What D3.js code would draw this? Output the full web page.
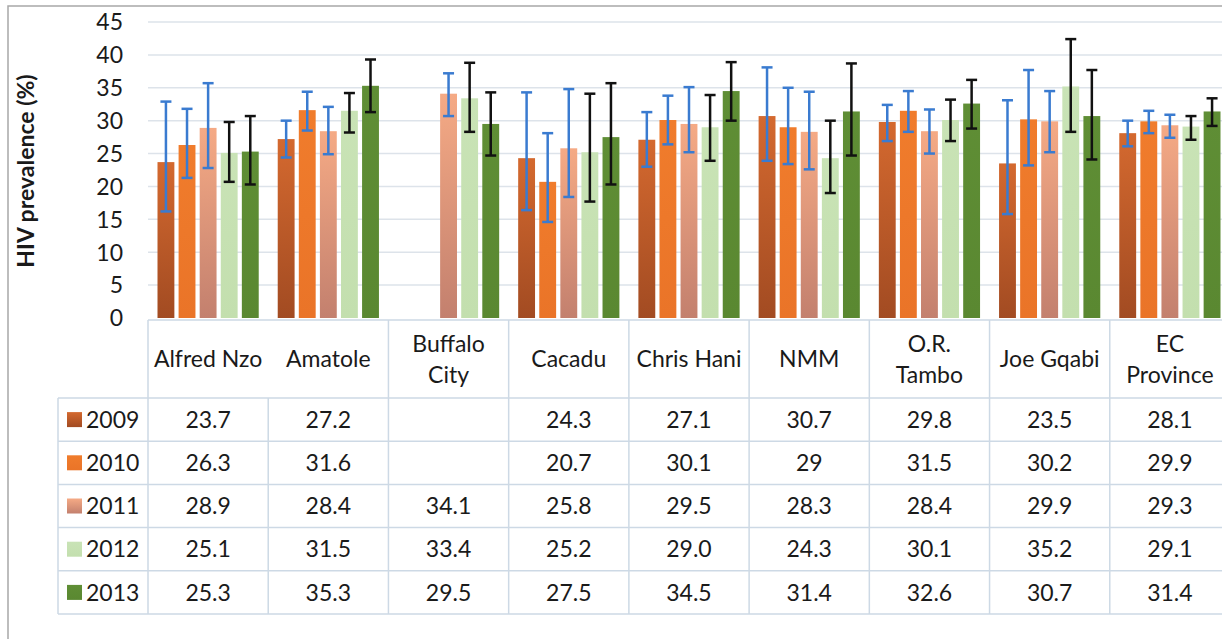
<!DOCTYPE html>
<html>
<head>
<meta charset="utf-8">
<script src="https://cdn.jsdelivr.net/npm/d3@7"></script>
<style>
  body { margin: 0; background: #fff; }
  text { font-family: Lato, "Open Sans", sans-serif; fill: #1a1a1a; }
</style>
</head>
<body>
<div id="chart"></div>
<script>
// district names, the labels are split over lines like in the table
var categories = ["Alfred Nzo", "Amatole", "Buffalo City", "Cacadu", "Chris Hani",
                  "NMM", "O.R. Tambo", "Joe Gqabi", "EC Province"];
var labelLines = [["Alfred Nzo"], ["Amatole"], ["Buffalo", "City"], ["Cacadu"], ["Chris Hani"],
                  ["NMM"], ["O.R.", "Tambo"], ["Joe Gqabi"], ["EC", "Province"]];
var years = ["2009", "2010", "2011", "2012", "2013"];

// prevalence per year (null = no survey)
var v2009 = [23.7, 27.2, null, 24.3, 27.1, 30.7, 29.8, 23.5, 28.1];
var v2010 = [26.3, 31.6, null, 20.7, 30.1, 29, 31.5, 30.2, 29.9];
var v2011 = [28.9, 28.4, 34.1, 25.8, 29.5, 28.3, 28.4, 29.9, 29.3];
var v2012 = [25.1, 31.5, 33.4, 25.2, "29.0", 24.3, 30.1, 35.2, 29.1];
var v2013 = [25.3, 35.3, 29.5, 27.5, 34.5, 31.4, 32.6, 30.7, 31.4];

// confidence intervals
var lo2009 = [16.2, 24.4, null, 16.4, 23.0, 23.9, 26.9, 15.8, 26.1];
var hi2009 = [32.9, 30.0, null, 34.3, 31.3, 38.1, 32.4, 33.1, 30.0];
var lo2010 = [21.3, 28.5, null, 14.6, 26.4, 23.4, 28.3, 23.2, 28.1];
var hi2010 = [31.8, 34.4, null, 28.1, 33.8, 35.0, 34.5, 37.7, 31.5];
var lo2011 = [22.8, 24.9, 30.7, 18.4, 25.2, 22.6, 25.0, 25.2, 27.4];
var hi2011 = [35.7, 32.1, 37.2, 34.8, 35.1, 34.4, 31.7, 34.5, 30.9];
var lo2012 = [20.7, 28.2, 28.3, 17.7, 23.9, 19.0, 26.9, 28.3, 27.1];
var hi2012 = [29.8, 34.2, 38.8, 34.1, 33.9, 30.0, 33.2, 42.4, 30.7];
var lo2013 = [20.3, 31.3, 24.7, 20.3, 30.0, 24.7, 28.8, 24.1, 29.2];
var hi2013 = [30.7, 39.3, 34.3, 35.7, 38.9, 38.7, 36.2, 37.7, 33.4];

var yTicks = [0, 5, 10, 15, 20, 25, 30, 35, 40, 45];

var values = [v2009, v2010, v2011, v2012, v2013];
var lows = [lo2009, lo2010, lo2011, lo2012, lo2013];
var highs = [hi2009, hi2010, hi2011, hi2012, hi2013];

var colTop = ["#d4692f", "#f07c2c", "#f5aa85", "#c9e3b6", "#5f8e35"];
var colBot = ["#a24b22", "#ea7428", "#c3806e", "#c3dfae", "#5a8831"];
var errColor = ["#3a7bd0", "#3a7bd0", "#3a7bd0", "#111", "#111"];

var w = 1222, h = 639;
var svg = d3.select("#chart").append("svg")
    .attr("width", w)
    .attr("height", h);

var defs = svg.append("defs");
years.forEach(function(y, i) {
    var g = defs.append("linearGradient")
        .attr("id", "grad" + i)
        .attr("x1", 0).attr("y1", 0).attr("x2", 0).attr("y2", 1);
    g.append("stop").attr("offset", "0%").attr("stop-color", colTop[i]);
    g.append("stop").attr("offset", "100%").attr("stop-color", colBot[i]);
});

// outer frame
svg.append("rect")
    .attr("x", 8).attr("y", 6)
    .attr("width", 1260).attr("height", 700)
    .attr("fill", "none")
    .attr("stroke", "#a8a8a8")
    .attr("stroke-width", 1.5);

var x0 = d3.scaleBand().domain(categories).range([148, 1230]);
var x1 = d3.scaleBand().domain(years)
    .range([9.5, x0.bandwidth() - 9.5])
    .paddingInner(0.2);
var y = d3.scaleLinear().domain([0, 45]).range([318, 22]);

// gridlines
svg.append("g").selectAll("line")
    .data(yTicks.slice(1))
    .enter().append("line")
    .attr("x1", 148).attr("x2", w)
    .attr("y1", function(d) { return y(d); })
    .attr("y2", function(d) { return y(d); })
    .style("stroke", "#dde3ea")
    .style("stroke-width", 1.5);

// y axis labels
svg.append("g").selectAll("text")
    .data(yTicks)
    .enter().append("text")
    .attr("x", 123)
    .attr("y", function(d) { return y(d); })
    .attr("dy", "0.36em")
    .attr("text-anchor", "end")
    .style("font-size", "23px")
    .text(function(d) { return d; });

svg.append("text")
    .attr("transform", "translate(34,171) rotate(-90)")
    .attr("text-anchor", "middle")
    .style("font-size", "23px")
    .style("font-weight", "bold")
    .text("HIV prevalence (%)");

// bars
var groups = svg.append("g").selectAll("g")
    .data(categories)
    .enter().append("g")
    .attr("transform", function(d) { return "translate(" + x0(d) + ",0)"; });

groups.each(function(c, ci) {
    var g = d3.select(this);
    var rows = years.map(function(yr, yi) {
        return { yi: yi, yr: yr, v: values[yi][ci], lo: lows[yi][ci], hi: highs[yi][ci] };
    }).filter(function(d) { return d.v !== null; });

    g.selectAll("rect")
        .data(rows)
        .enter().append("rect")
        .attr("x", function(d) { return x1(d.yr); })
        .attr("width", x1.bandwidth())
        .attr("y", function(d) { return y(+d.v); })
        .attr("height", function(d) { return y(0) - y(+d.v); })
        .attr("fill", function(d) { return "url(#grad" + d.yi + ")"; });

    var eb = g.selectAll("g.err")
        .data(rows)
        .enter().append("g")
        .attr("class", "err")
        .style("stroke", function(d) { return errColor[d.yi]; })
        .style("stroke-width", 2.5);

    var cx = function(d) { return x1(d.yr) + x1.bandwidth() / 2; };
    eb.append("line")
        .attr("x1", cx).attr("x2", cx)
        .attr("y1", function(d) { return y(d.hi); })
        .attr("y2", function(d) { return y(d.lo); });
    eb.append("line")
        .attr("x1", function(d) { return cx(d) - 5.5; })
        .attr("x2", function(d) { return cx(d) + 5.5; })
        .attr("y1", function(d) { return y(d.hi); })
        .attr("y2", function(d) { return y(d.hi); });
    eb.append("line")
        .attr("x1", function(d) { return cx(d) - 5.5; })
        .attr("x2", function(d) { return cx(d) + 5.5; })
        .attr("y1", function(d) { return y(d.lo); })
        .attr("y2", function(d) { return y(d.lo); });
});

// data table
var headTop = 320, rowTop = 398, rowH = 43.2, legLeft = 58;
var tableBottom = rowTop + rowH * years.length;
var lineColor = "#cdd9e5";
var table = svg.append("g");

table.append("line")
    .attr("x1", 148).attr("x2", w)
    .attr("y1", headTop).attr("y2", headTop)
    .style("stroke", lineColor).style("stroke-width", 1.5);

d3.range(years.length + 1).forEach(function(i) {
    table.append("line")
        .attr("x1", legLeft).attr("x2", w)
        .attr("y1", rowTop + i * rowH).attr("y2", rowTop + i * rowH)
        .style("stroke", lineColor).style("stroke-width", 1.5);
});

table.append("line")
    .attr("x1", legLeft).attr("x2", legLeft)
    .attr("y1", rowTop).attr("y2", tableBottom)
    .style("stroke", lineColor).style("stroke-width", 1.5);

categories.forEach(function(c, ci) {
    var top = ci === 1 ? rowTop : headTop;   // "Alfred Nzo" runs over this border
    table.append("line")
        .attr("x1", x0(c)).attr("x2", x0(c))
        .attr("y1", top).attr("y2", tableBottom)
        .style("stroke", lineColor).style("stroke-width", 1.5);
});

// category labels
categories.forEach(function(c, ci) {
    var lines = labelLines[ci];
    var t = table.append("text")
        .attr("x", x0(c) + x0.bandwidth() / 2)
        .attr("text-anchor", "middle")
        .style("font-size", "23px");
    lines.forEach(function(l, li) {
        t.append("tspan")
            .attr("x", x0(c) + x0.bandwidth() / 2)
            .attr("y", 359 + (li - (lines.length - 1) / 2) * 31)
            .attr("dy", "0.36em")
            .text(l);
    });
});

// legend column + cells
years.forEach(function(yr, yi) {
    var cy = rowTop + yi * rowH + rowH / 2;
    table.append("rect")
        .attr("x", 67).attr("y", cy - 7.5)
        .attr("width", 15).attr("height", 15)
        .attr("fill", "url(#grad" + yi + ")");
    table.append("text")
        .attr("x", 86).attr("y", cy)
        .attr("dy", "0.36em")
        .style("font-size", "23px")
        .text(yr);

    categories.forEach(function(c, ci) {
        var v = values[yi][ci];
        if (v === null) return;
        table.append("text")
            .attr("x", x0(c) + x0.bandwidth() / 2)
            .attr("y", cy)
            .attr("dy", "0.36em")
            .attr("text-anchor", "middle")
            .style("font-size", "23px")
            .text(v);
    });
});
</script>
</body>
</html>
